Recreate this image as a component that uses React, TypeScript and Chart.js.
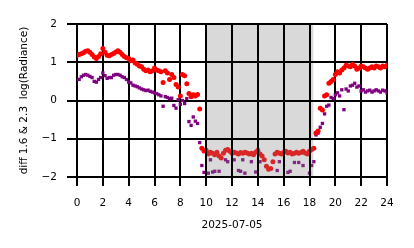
import React, { useEffect, useRef } from 'react';
import { Chart, registerables } from 'chart.js';

Chart.register(...registerables);

// Sample times (hours of day, 10-minute steps)
const HOURS: number[] = Array.from({ length: 145 }, (_, i) => i / 6);

// diff 1.6 µm log radiance (red)
const RED_VALUES: (number | null)[] = [
  1.18, 1.2, 1.22, 1.25, 1.29, 1.3,
  1.26, 1.2, 1.14, 1.1, 1.15, 1.22,
  1.36, 1.26, 1.18, 1.17, 1.2, 1.23,
  1.27, 1.3, 1.26, 1.2, 1.15, 1.12,
  1.1, 1.04, 1.06, 0.98, 0.95, 0.9,
  0.88, 0.82, 0.78, 0.8, 0.75, 0.78,
  0.85, 0.8, 0.78, 0.75, 0.47, 0.78,
  0.72, 0.55, 0.68, 0.6, 0.42, 0.35,
  0.12, 0.68, 0.65, 0.44, 0.18, 0.1,
  0.15, 0.12, 0.16, -0.22, -1.25, -1.32,
  -1.3, -1.4, -1.35, -1.38, -1.42, -1.35,
  -1.45, -1.5, -1.38, -1.3, -1.28, -1.33,
  -1.38, -1.35, -1.37, -1.4, -1.36, -1.38,
  -1.35, -1.37, -1.4, -1.38, -1.42, -1.35,
  -1.3, -1.4, -1.45, -1.55, -1.72, -1.8,
  -1.78, -1.6, -1.4, -1.35, -1.38, -1.4,
  -1.35, -1.33, -1.37, -1.35, -1.4, -1.38,
  -1.35, -1.38, -1.36, -1.33, -1.37, -1.4,
  -1.32, -1.28, -1.25, -0.85, -0.8, -0.2,
  -0.25, 0.12, 0.15, 0.45, 0.5, 0.55,
  0.68, 0.75, 0.72, 0.8, 0.85, 0.92,
  0.9, 0.88, 0.95, 0.9, 0.82, 0.85,
  0.9, 0.88, 0.85, 0.82, 0.85, 0.88,
  0.85, 0.9, 0.88, 0.85, 0.9, 0.88,
  0.92,
];

// diff 2.3 µm log radiance (purple)
const PURPLE_VALUES: (number | null)[] = [
  0.55, 0.55, 0.62, 0.66, 0.68, 0.66,
  0.63, 0.6, 0.5, 0.48, 0.55, 0.6,
  0.72, 0.65, 0.58, 0.6, 0.6, 0.66,
  0.68, 0.68, 0.66, 0.62, 0.6, 0.55,
  0.48, 0.46, 0.4, 0.38, 0.36, 0.33,
  0.3, 0.28, 0.26, 0.27, 0.24, 0.22,
  0.2, 0.18, 0.15, 0.12, -0.15, 0.1,
  0.08, 0.05, 0.06, -0.13, -0.2, 0.02,
  -0.1, 0.0, -0.08, 0.05, -0.55, -0.65,
  -0.43, -0.54, -0.6, -1.1, -1.7, -1.88,
  null, -1.9, -1.55, -1.87, -1.85, null,
  -1.85, null, null, -1.55, -1.6, null,
  null, -1.55, null, -1.83, -1.85, -1.55,
  -1.9, null, null, -1.6, null, -1.87,
  null, -1.6, null, null, null, null,
  null, null, null, -1.83, -1.6, null,
  null, null, -1.88, -1.85, null, -1.62,
  null, -1.62, null, -1.7, null, null,
  -1.9, -1.7, -1.6, -0.9, -0.85, -0.7,
  -0.6, -0.35, -0.15, -0.12, 0.08, 0.05,
  0.15, 0.2, 0.12, 0.28, -0.24, 0.3,
  0.25, 0.38, 0.4, 0.45, 0.35, 0.38,
  0.25, 0.28, 0.22, 0.25, 0.27, 0.22,
  0.25, 0.28, 0.25, 0.22, 0.27, 0.25,
  0.2,
];

// Night (shaded) interval, hours
const SHADE_START = 10.0;
const SHADE_END = 18.3;

const X_TICKS = [0, 2, 4, 6, 8, 10, 12, 14, 16, 18, 20, 22, 24];
const Y_TICKS = [-2, -1, 0, 1, 2];
const X_TITLE = '2025-07-05';
const Y_TITLE = 'diff 1.6 & 2.3  log(Radiance)';

const FONT = 'DejaVu Sans';

const shadePlugin = {
  id: 'nightShade',
  afterDatasetsDraw(chart: any) {
    const { ctx, chartArea, scales } = chart;
    const xs = scales.x;
    const ys = scales.y;
    const x0 = xs.getPixelForValue(SHADE_START);
    const x1 = xs.getPixelForValue(SHADE_END);
    ctx.save();
    ctx.fillStyle = 'rgba(128,128,128,0.3)';
    ctx.fillRect(x0, chartArea.top, x1 - x0, chartArea.bottom - chartArea.top);
    // redraw grid lines on top of the shading
    ctx.strokeStyle = '#000';
    ctx.lineWidth = 2;
    ctx.beginPath();
    for (const t of X_TICKS) {
      if (t >= SHADE_START && t <= SHADE_END) {
        const px = Math.round(xs.getPixelForValue(t));
        ctx.moveTo(px, chartArea.top);
        ctx.lineTo(px, chartArea.bottom);
      }
    }
    for (const t of Y_TICKS) {
      const py = Math.round(ys.getPixelForValue(t));
      ctx.moveTo(x0, py);
      ctx.lineTo(x1, py);
    }
    ctx.stroke();
    ctx.restore();
  },
};

export default function App() {
  const canvasRef = useRef<HTMLCanvasElement | null>(null);

  useEffect(() => {
    if (!canvasRef.current) return;
    const redData = HOURS.map((h, i) => ({ x: h, y: RED_VALUES[i] }));
    const purpleData = HOURS.map((h, i) => ({ x: h, y: PURPLE_VALUES[i] }));

    const chart = new Chart(canvasRef.current, {
      type: 'scatter',
      data: {
        datasets: [
          {
            label: '1.6',
            data: redData as any,
            pointStyle: 'circle',
            pointRadius: 2.5,
            pointHoverRadius: 2.5,
            backgroundColor: '#ff0000',
            borderWidth: 0,
          },
          {
            label: '2.3',
            data: purpleData as any,
            pointStyle: 'rect',
            pointRadius: 2.35,
            pointHoverRadius: 2.35,
            backgroundColor: '#800080',
            borderWidth: 0,
          },
        ],
      },
      options: {
        animation: false,
        responsive: false,
        devicePixelRatio: 1,
        events: [],
        layout: { padding: { left: 0, right: 27, top: 24, bottom: 0 } },
        plugins: {
          legend: { display: false },
          tooltip: { enabled: false },
        },
        scales: {
          x: {
            type: 'linear',
            min: 0,
            max: 24,
            afterBuildTicks: (scale: any) => {
              scale.ticks = X_TICKS.map((v) => ({ value: v }));
            },
            afterFit: (scale: any) => {
              scale.height = 71;
            },
            ticks: {
              autoSkip: false,
              maxRotation: 0,
              padding: 11,
              color: '#000',
              font: { family: FONT, size: 10.5 },
              callback: (v: any) => String(v),
            },
            grid: { color: '#000', lineWidth: 2, tickLength: 9, tickWidth: 2 },
            border: { display: false },
            title: {
              display: true,
              text: X_TITLE,
              color: '#000',
              font: { family: FONT, size: 10.5 },
              padding: { top: 0, bottom: 16 },
            },
          },
          y: {
            type: 'linear',
            min: -2,
            max: 2,
            afterBuildTicks: (scale: any) => {
              scale.ticks = Y_TICKS.map((v) => ({ value: v }));
            },
            afterFit: (scale: any) => {
              scale.width = 77;
            },
            ticks: {
              padding: 10,
              color: '#000',
              font: { family: FONT, size: 10.5 },
              callback: (v: any) => String(v).replace('-', '\u2212'),
            },
            grid: { color: '#000', lineWidth: 2, tickLength: 10, tickWidth: 2 },
            border: { display: false },
            title: {
              display: true,
              text: Y_TITLE,
              color: '#000',
              font: { family: FONT, size: 10.5 },
              padding: { top: 18, bottom: 0 },
            },
          },
        },
      },
      plugins: [shadePlugin],
    });
    return () => chart.destroy();
  }, []);

  return (
    <div style={{ position: 'absolute', left: 0, top: 0, width: 414, height: 248, background: '#fff' }}>
      <canvas ref={canvasRef} width={414} height={248} style={{ display: 'block', width: 414, height: 248 }} />
    </div>
  );
}
